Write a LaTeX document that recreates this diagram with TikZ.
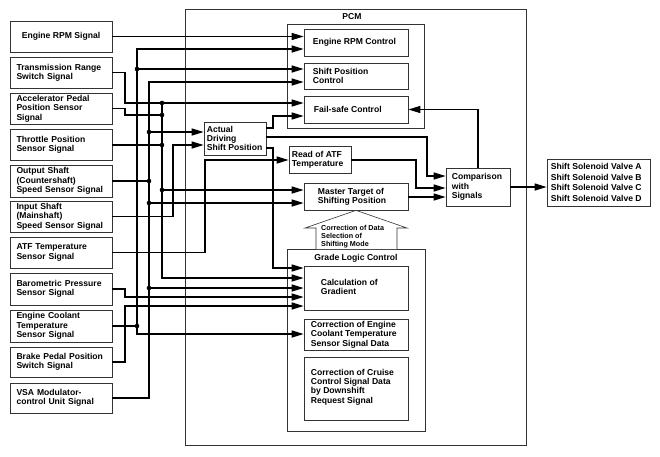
\documentclass[tikz,border=0pt]{standalone}
\usepackage{fontspec}
\setmainfont{Liberation Sans}
\usetikzlibrary{arrows.meta}
\tikzset{
  box/.style={draw=black!80,line width=0.7pt,inner sep=0pt,align=left,
    font=\fontsize{8.6}{9.4}\selectfont\bfseries},
  sbox/.style={box,minimum width=102pt,text width=89pt,inner xsep=6.5pt},
  frame/.style={draw=black!80,line width=0.6pt,inner sep=0pt},
  lbl/.style={inner sep=0pt,align=left,font=\fontsize{8.6}{9.4}\selectfont\bfseries},
  slbl/.style={inner sep=0pt,align=left,font=\fontsize{7.2}{8}\selectfont\bfseries},
  wire/.style={line width=1.3pt,line join=miter},
  arr/.style={wire,-{Triangle[length=12pt,width=7pt]}},
}
\begin{document}
\begin{tikzpicture}[x=1pt,y=-1pt]
\fill[white] (0,0) rectangle (660,456);
\useasboundingbox (0,0) rectangle (660,456);

% frames
\node[frame,minimum width=341pt,minimum height=436pt] (pcm) at (355.5,227) {};
\node[lbl] (pcmt) at (352,17) {PCM};
\node[frame,minimum width=137pt,minimum height=104pt] (top) at (355.5,76) {};
\node[frame,minimum width=138pt,minimum height=182pt] (glc) at (356,340) {};
\node[lbl] (glct) at (356,258) {Grade Logic Control};

% left signal boxes
\node[box,minimum width=102pt,minimum height=31pt] (s1) at (61,36.5) {Engine RPM Signal};
\node[sbox,minimum height=31pt] (s2) at (61,72.5) {Transmission Range\\Switch Signal};
\node[sbox,minimum height=31pt] (s3) at (61,108.5) {Accelerator Pedal\\Position Sensor\\Signal};
\node[sbox,minimum height=31pt] (s4) at (61,144.5) {Throttle Position\\Sensor Signal};
\node[sbox,minimum height=32pt] (s5) at (61,181) {Output Shaft\\(Countershaft)\\Speed Sensor Signal};
\node[sbox,minimum height=31pt] (s6) at (61,216.5) {Input Shaft\\(Mainshaft)\\Speed Sensor Signal};
\node[sbox,minimum height=31pt] (s7) at (61,252.5) {ATF Temperature\\Sensor Signal};
\node[sbox,minimum height=32pt] (s8) at (61,289) {Barometric Pressure\\Sensor Signal};
\node[sbox,minimum height=32pt] (s9) at (61,326) {Engine Coolant\\Temperature\\Sensor Signal};
\node[sbox,minimum height=30pt] (s10) at (61,362) {Brake Pedal Position\\Switch Signal};
\node[sbox,minimum height=30pt] (s11) at (61,398) {VSA Modulator-\\control Unit Signal};

% PCM inner boxes
\node[box,minimum width=104pt,minimum height=27pt] (erc) at (356,42.5) {};
\node[lbl,anchor=west] (erct) at ([xshift=9pt]erc.west) {Engine RPM Control};
\node[box,minimum width=104pt,minimum height=26pt] (spc) at (356,76) {};
\node[lbl,anchor=west] (spct) at ([xshift=9pt]spc.west) {Shift Position\\Control};
\node[box,minimum width=104pt,minimum height=27pt] (fsc) at (356,109.5) {};
\node[lbl,anchor=west] (fsct) at ([xshift=10pt]fsc.west) {Fail-safe Control};

\node[box,minimum width=62pt,minimum height=33pt] (adsp) at (235,138.5) {};
\node[lbl,anchor=west] (adspt) at ([xshift=3pt]adsp.west) {Actual\\Driving\\Shift Position};
\node[box,minimum width=62pt,minimum height=27pt] (ratf) at (320,159.5) {};
\node[lbl,anchor=west] (ratft) at ([xshift=3pt]ratf.west) {Read of ATF\\Temperature};
\node[box,minimum width=104pt,minimum height=27pt] (mts) at (356,196.5) {};
\node[lbl,anchor=west] (mtst) at ([xshift=14pt]mts.west) {Master Target of\\Shifting Position};
\node[box,minimum width=64pt,minimum height=38pt] (cmp) at (478,187) {};
\node[lbl,anchor=west] (cmpt) at ([xshift=6pt]cmp.west) {Comparison\\with\\Signals};
\node[box,minimum width=103pt,minimum height=47pt] (ssv) at (598.5,182.5) {};
\node[lbl,anchor=west,font=\fontsize{8.6}{10.4}\selectfont\bfseries] (ssvt) at ([xshift=4pt]ssv.west) {Shift Solenoid Valve A\\Shift Solenoid Valve B\\Shift Solenoid Valve C\\Shift Solenoid Valve D};

\node[box,minimum width=104pt,minimum height=44pt] (cog) at (356,288) {};
\node[lbl,anchor=west] (cogt) at ([xshift=17pt,yshift=1pt]cog.west) {Calculation of\\Gradient};
\node[box,minimum width=104pt,minimum height=31pt] (cec) at (356,334.5) {};
\node[lbl,anchor=west] (cect) at ([xshift=7pt]cec.west) {Correction of Engine\\Coolant Temperature\\Sensor Signal Data};
\node[box,minimum width=104pt,minimum height=63pt] (ccc) at (356,388.5) {};
\node[lbl,anchor=west] (ccct) at ([xshift=7pt,yshift=1.5pt]ccc.west) {Correction of Cruise\\Control Signal Data\\by Downshift\\Request Signal};

% block arrow between grade logic and master target
\draw[frame,fill=white] (316,249) -- (316,228) -- (305,228) -- (mts.south) -- (407,228) -- (397,228) -- (397,249);
\node[slbl,anchor=west] (cdt) at (321,237) {Correction of Data\\Selection of\\Shifting Mode};

% wires
\draw[arr] (s1.east) -- (erc.west |- s1.east);

% bus A (x=137)
\draw[arr] (s9.east) -- (137,326) coordinate (a1) -- (137,49) -- (erc.west |- 0,49);
\draw[arr] (a1) -- (137,334) -- (cec.west |- 0,334);
\draw[arr] (137,69) coordinate (a2) -- (spc.west |- 0,69);

% bus B (x=149)
\draw[arr] (s11.east) -- (149,398) -- (149,82) -- (spc.west |- 0,82);
\draw[wire] (s5.east) -- (149,181) coordinate (b2);
\draw[arr] (149,132) coordinate (b1) -- (adsp.west |- 0,132);
\draw[arr] (149,203) coordinate (b3) -- (mts.west |- 0,203);
\draw[arr] (149,288) coordinate (b4) -- (cog.west |- 0,288);

% bus C (x=162)
\draw[arr] (s2.east) -- (125,72.5) -- (125,103) -- (fsc.west |- 0,103);
\draw[wire] (s3.east) -- (125,108.5) -- (125,115) -- (162,115) coordinate (c2);
\draw[wire] (s4.east |- 0,145) -- (162,145) coordinate (c3);
\draw[arr] (162,103) coordinate (c1) -- (162,278) -- (cog.west |- 0,278);
\draw[arr] (162,190) coordinate (c4) -- (mts.west |- 0,190);

% other inputs
\draw[arr] (s6.east) -- (173,216.5) -- (173,145) -- (adsp.west |- 0,145);
\draw[arr] (s7.east) -- (205,252.5) -- (205,160) -- (ratf.west |- 0,160);
\draw[arr] (s8.east) -- (125,289) -- (125,297) -- (cog.west |- 0,297);
\draw[arr] (s10.east) -- (125,362) -- (125,306) -- (cog.west |- 0,306);

% internal
\draw[arr] (adsp.east |- 0,128) -- (273,128) -- (273,116) -- (fsc.west |- 0,116);
\draw[arr] (adsp.east |- 0,137) -- (427,137) -- (427,176) -- (cmp.west |- 0,176);
\draw[arr] (adsp.east |- 0,148) -- (273,148) -- (273,268) -- (cog.west |- 0,268);
\draw[arr] (ratf.east |- 0,160) -- (416,160) -- (416,188) -- (cmp.west |- 0,188);
\draw[arr] (mts.east |- 0,197) -- (cmp.west |- 0,197);
\draw[arr] (cmp.east) -- (ssv.west |- cmp.east);
\draw[arr] (cmp.north) -- (cmp.north |- fsc.east) -- (fsc.east);

% junction dots
\foreach \p in {a1,a2,b1,b2,b3,b4,c1,c2,c3,c4}
  \fill (\p) circle (2.3pt);
\end{tikzpicture}
\end{document}
